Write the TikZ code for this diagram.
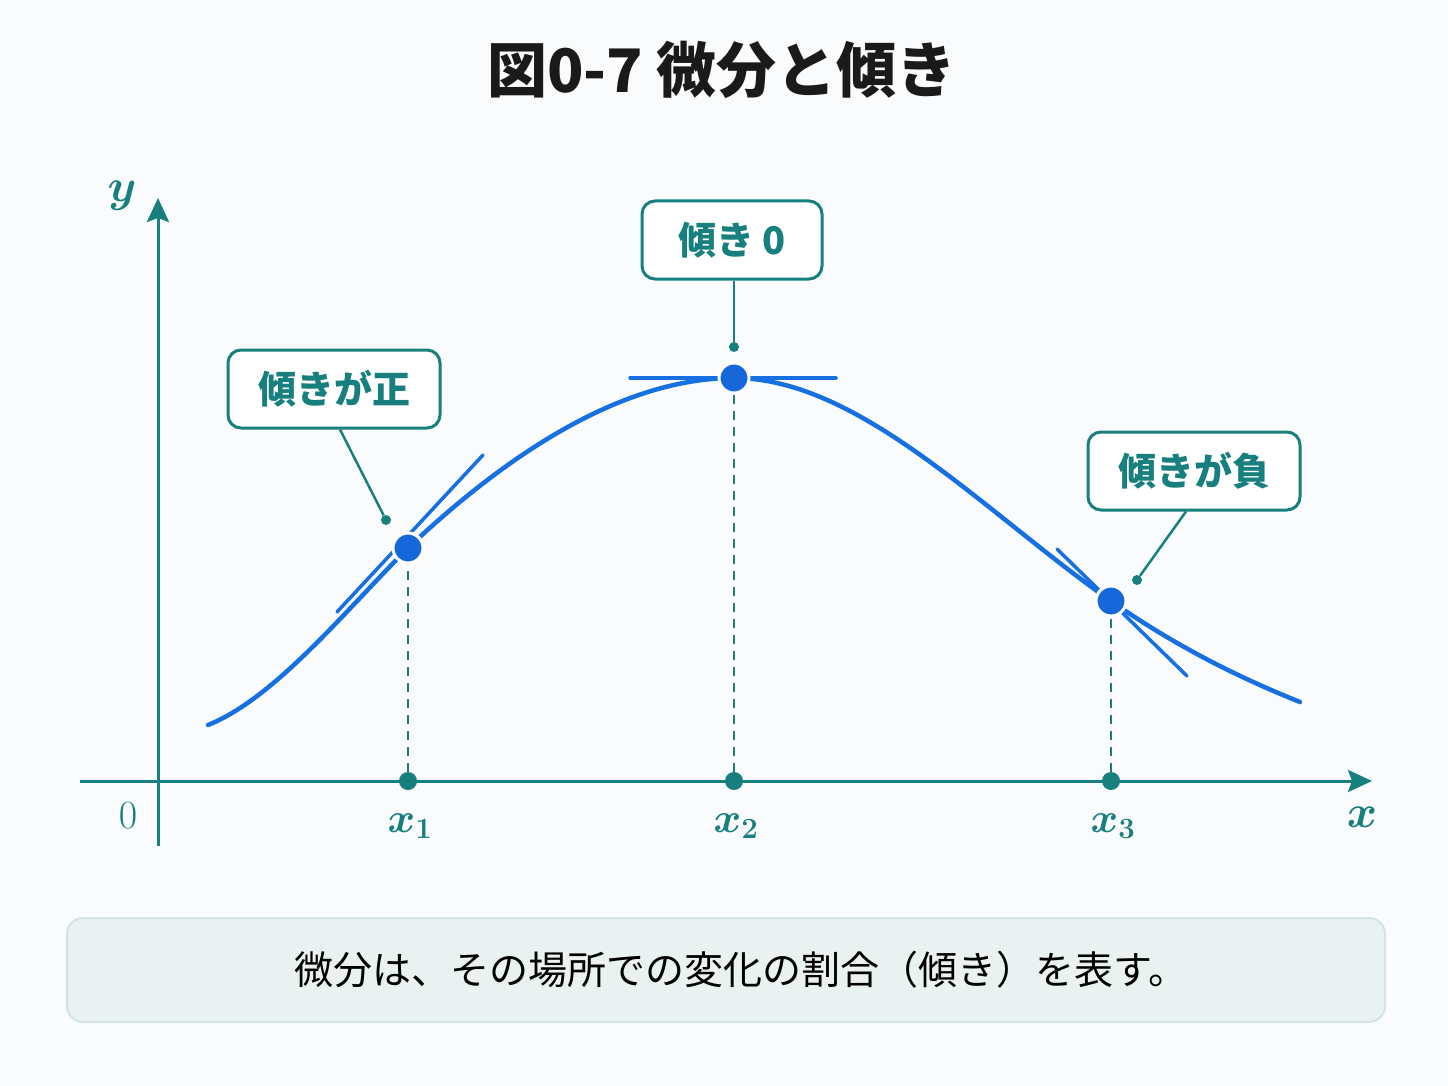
\RequirePackage{fix-cm}
\documentclass[tikz,border=0pt]{standalone}
\usepackage{fontspec}
\setmainfont{Noto Sans CJK JP}
\usetikzlibrary{arrows.meta}
\definecolor{tealc}{HTML}{17807E}
\definecolor{bluec}{HTML}{1670E2}
\definecolor{dotblue}{HTML}{1567DA}
\definecolor{bgc}{HTML}{F9FBFC}
\definecolor{notefill}{HTML}{E9F1F1}
\definecolor{noteline}{HTML}{D3E4E4}
\definecolor{titlec}{HTML}{1A1A1A}
\tikzset{
  axisline/.style={draw=tealc, line width=3pt},
  dropline/.style={draw=tealc, line width=2.5pt, dash pattern=on 9pt off 7pt},
  curveline/.style={draw=bluec, line width=4.5pt, line cap=round},
  tangentline/.style={draw=bluec, line width=3.5pt, line cap=round},
  curvedot/.style={circle, fill=dotblue, draw=white, line width=3pt, minimum size=30pt, inner sep=0pt},
  tickdot/.style={circle, fill=tealc, minimum size=18pt, inner sep=0pt},
  leaddot/.style={circle, fill=tealc, minimum size=10pt, inner sep=0pt},
  callout/.style={draw=tealc, fill=white, line width=3pt, rounded corners=13pt, text=tealc,
    font=\fontsize{38}{40}\selectfont\bfseries, minimum height=78pt, inner xsep=12pt},
  leader/.style={draw=tealc, line width=2.5pt},
  mathlab/.style={text=tealc, inner sep=0pt},
}
\begin{document}
\begin{tikzpicture}[x=1pt,y=-1pt]
\useasboundingbox (0,0) rectangle (1448,1086);
\fill[bgc] (0,0) rectangle (1448,1086);

% title
\node[font=\fontsize{60}{64}\selectfont\bfseries, text=titlec] (title) at (722,70) {図0-7 微分と傾き};

% axes
\coordinate (xstart) at (80,781);
\coordinate (xend) at (1372,781);
\coordinate (ystart) at (158,846);
\coordinate (yend) at (158,198);
\draw[axisline, -{Stealth[length=24pt,width=22pt,inset=4pt]}] (xstart) -- (xend);
\draw[axisline, -{Stealth[length=24pt,width=22pt,inset=4pt]}] (ystart) -- (yend);
\node[mathlab, font=\fontsize{46}{46}\selectfont\boldmath] (ylab) at (122,196) {$y$};
\node[mathlab, font=\fontsize{46}{46}\selectfont\boldmath] (xlab) at (1362,817) {$x$};
\node[mathlab, font=\fontsize{40}{40}\selectfont] (zero) at (128,816) {$0$};

% ticks
\node[tickdot] (t1) at (408,781) {};
\node[tickdot] (t2) at (734,781) {};
\node[tickdot] (t3) at (1111,781) {};
\node[mathlab, font=\fontsize{42}{42}\selectfont\boldmath] (x1) at (410,826) {$x_1$};
\node[mathlab, font=\fontsize{42}{42}\selectfont\boldmath] (x2) at (736,826) {$x_2$};
\node[mathlab, font=\fontsize{42}{42}\selectfont\boldmath] (x3) at (1113,826) {$x_3$};

% curve points
\coordinate (p0) at (208,725);
\coordinate (p1) at (408,548);
\coordinate (p2) at (734,378);
\coordinate (p3) at (1111,601);
\coordinate (p4) at (1300,702);

% drop lines
\draw[dropline] (t1) -- (p1);
\draw[dropline] (t2) -- (p2);
\draw[dropline] (t3) -- (p3);

% curve
\draw[curveline] (p0) .. controls (274.7,698.3) and (344.7,611.3) .. (p1)
  .. controls (511.3,450.2) and (625.3,378) .. (p2)
  .. controls (859.7,378) and (985.3,513) .. (p3)
  .. controls (1174,645.1) and (1237,676.8) .. (p4);

% tangents
\draw[tangentline] (337,612) -- (483,455);
\draw[tangentline] (630,378) -- (836,378);
\draw[tangentline] (1057,549) -- (1187,676);

% points on curve
\node[curvedot] (d1) at (p1) {};
\node[curvedot] (d2) at (p2) {};
\node[curvedot] (d3) at (p3) {};

% callouts
\node[callout, minimum width=212pt] (c1) at (334,389) {傾きが正};
\node[callout, minimum width=180pt] (c2) at (732,240) {傾き 0};
\node[callout, minimum width=212pt] (c3) at (1194,471) {傾きが負};
\node[leaddot] (l1) at (386,520) {};
\node[leaddot] (l2) at (734,347) {};
\node[leaddot] (l3) at (1137,580) {};
\draw[leader] (c1.south) ++(6,0) coordinate (c1b) (c1b) -- (l1);
\draw[leader] (c2.south) ++(2,0) coordinate (c2b) (c2b) -- (l2);
\draw[leader] (c3.south) ++(-8,0) coordinate (c3b) (c3b) -- (l3);

% note box
\node[draw=noteline, fill=notefill, line width=2pt, rounded corners=16pt,
  minimum width=1318pt, minimum height=104pt, text=black] (note) at (726,970) {};
\node[font=\fontsize{39}{42}\selectfont, text=black] (notetext) at (741,970)
  {微分は、その場所での変化の割合（傾き）を表す。};
\end{tikzpicture}
\end{document}
